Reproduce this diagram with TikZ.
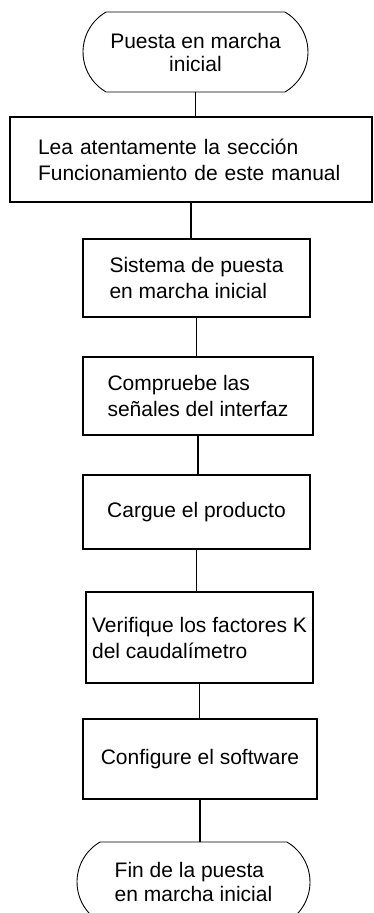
\documentclass[tikz,border=0pt]{standalone}
\usepackage{fontspec}
\setmainfont{Liberation Sans}
\usetikzlibrary{
  positioning,
  shapes.misc
}

\begin{document}
\begin{tikzpicture}[x=1pt,y=1pt,
  font=\fontsize{21}{26}\selectfont,
  term/.style={rounded rectangle,rounded rectangle arc length=120,draw,line width=0.9pt,minimum width=225pt,minimum height=80pt,inner sep=0pt,outer sep=0pt},
  box/.style={rectangle,draw,line width=1.8pt,minimum width=227pt,minimum height=78pt,align=left,inner sep=0pt,outer sep=0pt},
  link/.style={line width=1.8pt}
]
\useasboundingbox (0,0) rectangle (374,-913);

\node[term,align=center,font=\fontsize{21}{23}\selectfont] (start) at (195.5,-52) {Puesta en marcha\\inicial};
\node[box,minimum width=362pt,minimum height=85pt,text width=306pt,inner xsep=28pt,below=25pt of start,xshift=-4.5pt] (lea) {Lea atentamente la sección\\Funcionamiento de este manual};
\node[box,below=37pt of lea,xshift=5.5pt] (sistema) {Sistema de puesta\\en marcha inicial};
\node[box,minimum width=230pt,below=40pt of sistema,xshift=1.5pt] (senales) {Compruebe las\\señales del interfaz};
\node[box,minimum height=74pt,below=40pt of senales,xshift=-1.5pt] (cargue) {Cargue el producto};
\node[box,minimum height=91pt,below=43pt of cargue,xshift=3pt] (factores) {Verifique los factores K\\del caudalímetro};
\node[box,minimum width=234pt,minimum height=80pt,below=36pt of factores,xshift=0.5pt] (software) {Configure el software};
\node[term,align=left,minimum width=233pt,font=\fontsize{21}{24}\selectfont,below=43pt of software,xshift=-6.5pt] (fin) {Fin de la puesta\\en marcha inicial};

\draw[link] (start.south) -- (start.south |- lea.north);
\draw[link] (lea.south) -- (lea.south |- sistema.north);
\draw[link] (sistema.south) -- (sistema.south |- senales.north);
\draw[link] (senales.south) -- (senales.south |- cargue.north);
\draw[link] (cargue.south) -- (cargue.south |- factores.north);
\draw[link] (factores.south) -- (factores.south |- software.north);
\draw[link] (software.south) -- (software.south |- fin.north);
\end{tikzpicture}
\end{document}
